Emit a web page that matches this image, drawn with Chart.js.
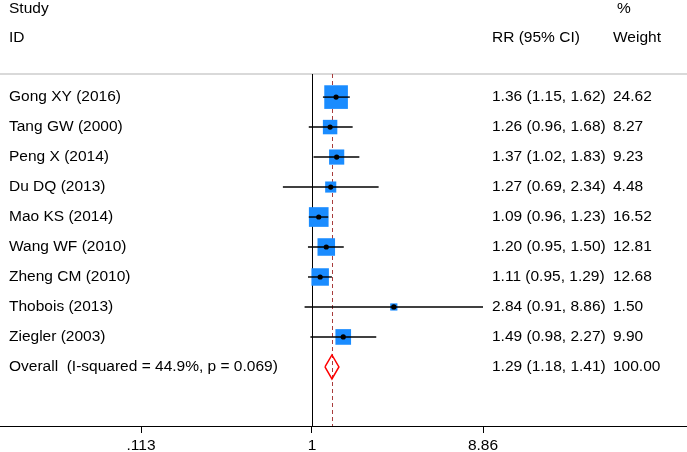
<!DOCTYPE html>
<html>
<head>
<meta charset="utf-8">
<script src="https://cdn.jsdelivr.net/npm/chart.js@4.4.1/dist/chart.umd.min.js"></script>
<style>
  html, body { margin: 0; padding: 0; background: #fff; }
  #wrap { width: 687px; height: 452px; }
</style>
</head>
<body>
<div id="wrap"><canvas id="myChart" width="687" height="452"></canvas></div>
<script>
//Study data.
let studies = ["Gong XY (2016)", "Tang GW (2000)", "Peng X (2014)", "Du DQ (2013)", "Mao KS (2014)",
  "Wang WF (2010)", "Zheng CM (2010)", "Thobois (2013)", "Ziegler (2003)"];
let rr = [1.36, 1.26, 1.37, 1.27, 1.09, 1.20, 1.11, 2.84, 1.49];
let lower = [1.15, 0.96, 1.02, 0.69, 0.96, 0.95, 0.95, 0.91, 0.98];
let upper = [1.62, 1.68, 1.83, 2.34, 1.23, 1.50, 1.29, 8.86, 2.27];
let weights = [24.62, 8.27, 9.23, 4.48, 16.52, 12.81, 12.68, 1.50, 9.90];

//Pooled estimate.
let overallLabel = "Overall  (I-squared = 44.9%, p = 0.069)";
let overall = [1.29, 1.18, 1.41];
let overallWeight = 100.00;

//Axis ticks.
let xTicks = [0.113, 1, 8.86];
let xTickLabels = [".113", "1", "8.86"];

const FONT_FAMILY = "'Liberation Sans', Arial, sans-serif";
const FONT = "15.5px " + FONT_FAMILY;
const BLUE = "#1a8cff";

function fmtCI(est, lo, hi) {
  return `${est.toFixed(2)} (${lo.toFixed(2)}, ${hi.toFixed(2)})`;
}

let datasets = [];

//Confidence interval lines, one per study.
studies.forEach((s, i) => {
  datasets.push({
    type: "line",
    data: [{ x: lower[i], y: i }, { x: upper[i], y: i }],
    borderColor: "#000",
    borderWidth: 1.4,
    pointRadius: 0,
    order: 1
  });
});

//Weight squares (area proportional to weight).
datasets.push({
  type: "scatter",
  data: rr.map((v, i) => ({ x: v, y: i })),
  pointStyle: "rect",
  pointRadius: ctx => (Math.sqrt(weights[ctx.dataIndex]) * 4.4 + 1.8) / Math.SQRT2,
  backgroundColor: BLUE,
  borderColor: BLUE,
  borderWidth: 0,
  order: 2
});

//Point estimates.
datasets.push({
  type: "scatter",
  data: rr.map((v, i) => ({ x: v, y: i })),
  pointStyle: "circle",
  pointRadius: 2.6,
  backgroundColor: "#000",
  borderWidth: 0,
  order: 0
});

//Overall diamond.
let oy = studies.length;
let dh = 0.4;
datasets.push({
  type: "line",
  data: [
    { x: overall[1], y: oy },
    { x: overall[0], y: oy - dh },
    { x: overall[2], y: oy },
    { x: overall[0], y: oy + dh },
    { x: overall[1], y: oy }
  ],
  borderColor: "#ff0000",
  borderWidth: 1.5,
  pointRadius: 0,
  fill: false,
  tension: 0,
  order: 0
});

//Draws the reference lines and all the text columns.
const forestText = {
  id: "forestText",
  beforeDatasetsDraw(chart) {
    let { ctx, chartArea, scales } = chart;
    let x1 = scales.x.getPixelForValue(1);
    let xo = scales.x.getPixelForValue(overall[0]);
    ctx.save();
    //top separator
    ctx.strokeStyle = "#cccccc";
    ctx.lineWidth = 1.5;
    ctx.beginPath();
    ctx.moveTo(0, chartArea.top);
    ctx.lineTo(chart.width, chartArea.top);
    ctx.stroke();
    //null line
    ctx.strokeStyle = "#000";
    ctx.lineWidth = 1;
    ctx.beginPath();
    ctx.moveTo(Math.round(x1) + 0.5, chartArea.top);
    ctx.lineTo(Math.round(x1) + 0.5, chartArea.bottom);
    ctx.stroke();
    //overall estimate line
    ctx.strokeStyle = "#a83c3c";
    ctx.setLineDash([4, 3]);
    ctx.beginPath();
    ctx.moveTo(Math.round(xo) + 0.5, chartArea.top);
    ctx.lineTo(Math.round(xo) + 0.5, chartArea.bottom);
    ctx.stroke();
    ctx.setLineDash([]);
    ctx.restore();
  },
  afterDraw(chart) {
    let { ctx, scales } = chart;
    ctx.save();
    ctx.font = FONT;
    ctx.fillStyle = "#000";
    ctx.textBaseline = "middle";
    ctx.textAlign = "left";
    //headers
    ctx.fillText("Study", 9, 9);
    ctx.fillText("ID", 9, 38);
    ctx.fillText("%", 617, 9);
    ctx.fillText("RR (95% CI)", 492, 38);
    ctx.fillText("Weight", 613, 38);
    //rows
    studies.forEach((s, i) => {
      let y = scales.y.getPixelForValue(i);
      ctx.fillText(s, 9, y);
      ctx.fillText(fmtCI(rr[i], lower[i], upper[i]), 492, y);
      ctx.fillText(weights[i].toFixed(2), 613, y);
    });
    let y = scales.y.getPixelForValue(oy);
    ctx.fillText(overallLabel, 9, y);
    ctx.fillText(fmtCI(overall[0], overall[1], overall[2]), 492, y);
    ctx.fillText(overallWeight.toFixed(2), 613, y);
    ctx.restore();
  }
};

let chartCtx = document.getElementById("myChart").getContext("2d");
let myChart = new Chart(chartCtx, {
  data: { datasets },
  options: {
    responsive: false,
    animation: false,
    layout: { autoPadding: false, padding: { top: 74, left: 0, right: 0, bottom: 0 } },
    plugins: { legend: { display: false }, tooltip: { enabled: false } },
    scales: {
      x: {
        type: "logarithmic",
        min: 0.0187,
        max: 119.5,
        afterBuildTicks: scale => {
          scale.ticks = xTicks.map(v => ({ value: v }));
        },
        afterFit: scale => { scale.height = 26; },
        ticks: {
          autoSkip: false,
          maxRotation: 0,
          padding: 3,
          color: "#000",
          font: { family: FONT_FAMILY, size: 15.5 },
          callback: (v) => {
            let k = xTicks.indexOf(v);
            return k >= 0 ? xTickLabels[k] : "";
          }
        },
        grid: { display: true, drawOnChartArea: false, drawTicks: true, tickLength: 7, color: "#000", lineWidth: 1 },
        border: { display: true, color: "#000", width: 1 }
      },
      y: {
        type: "linear",
        reverse: true,
        min: -0.77,
        max: 10.97,
        display: false
      }
    }
  },
  plugins: [forestText]
});
</script>
</body>
</html>
